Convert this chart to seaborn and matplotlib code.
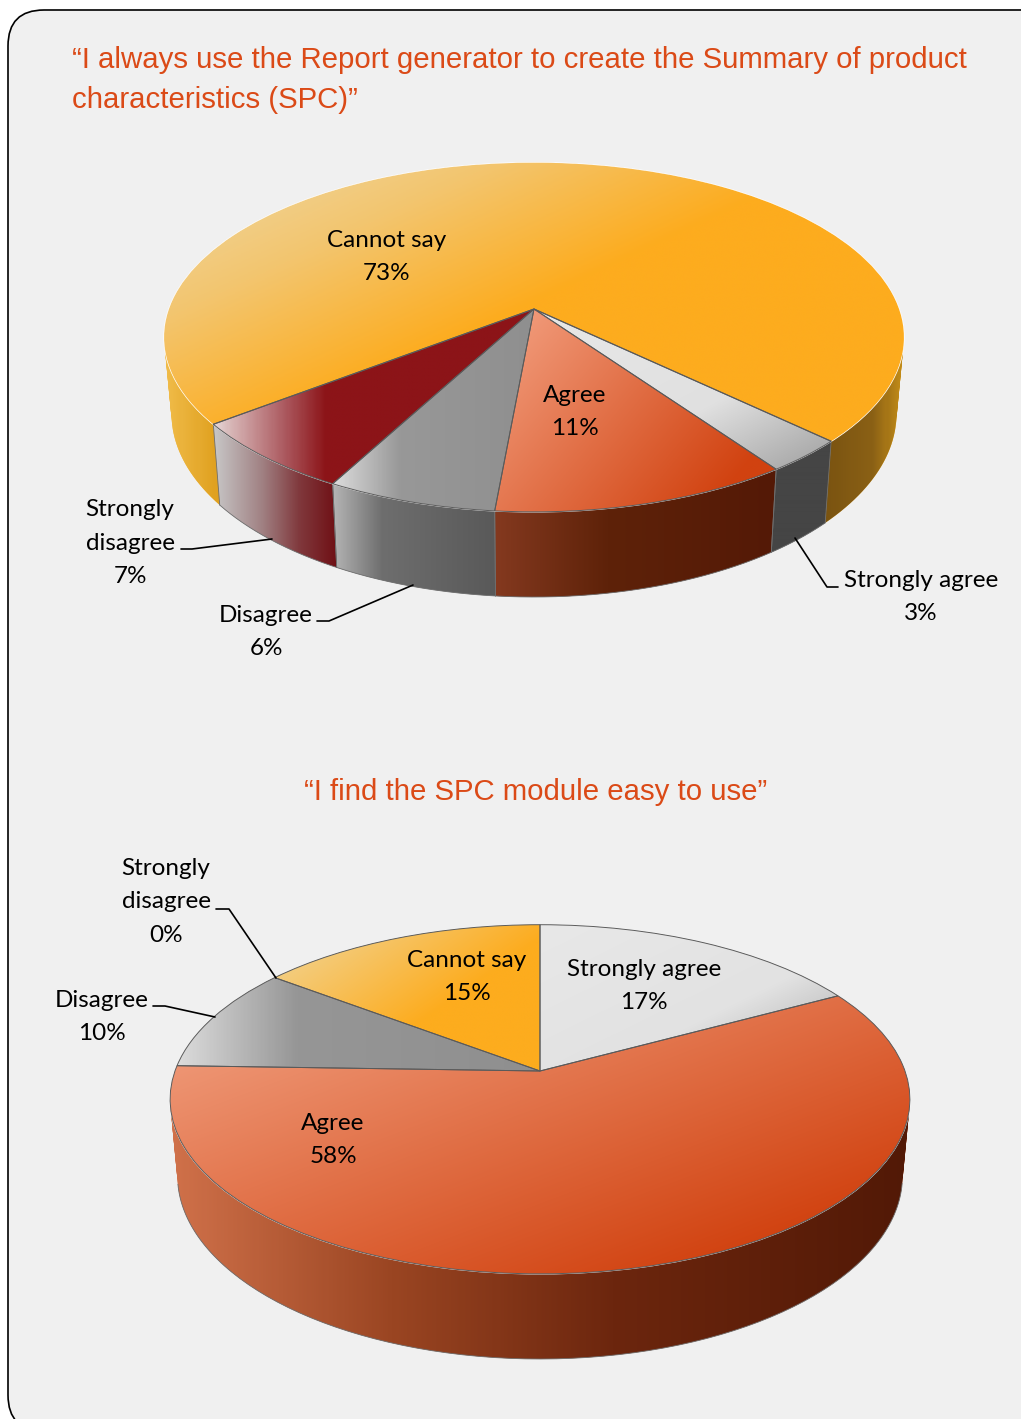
import numpy as np
import matplotlib
matplotlib.use('Agg')
import matplotlib.pyplot as plt
import seaborn as sns
from matplotlib.colors import LinearSegmentedColormap
from matplotlib.patches import FancyBboxPatch, PathPatch
from matplotlib.path import Path
from matplotlib.transforms import Transform

# Данные
categories = ['Strongly agree', 'Agree', 'Disagree', 'Strongly disagree', 'Cannot say']
report_values = [3.1, 11.2, 6.4, 6.7, 72.6]
module_values = [17.1, 58.4, 9.8, 0, 14.7]
report_title = '\u201cI always use the Report generator to create the Summary of product\ncharacteristics (SPC)\u201d'
module_title = '\u201cI find the SPC module easy to use\u201d'

base_colors = ['#d9d9d9', '#d24312', '#8f8f8f', '#8c1418', '#fdac1e']

# Градиенты верхней грани: (dx, dy), [(позиция, цвет), ...]
report_top = [
    ((1, 1), [(0, '#e8e8e8'), (0.6, '#e0e0e0'), (1, '#a0a0a0')]),
    ((1, 0.6), [(0, '#f4a283'), (0.85, '#d14210'), (1, '#d14210')]),
    ((1, 0), [(0, '#dcdcdc'), (0.33, '#989898'), (1, '#8f8f8f')]),
    ((1, 0), [(0, '#e6d8d8'), (0.05, '#d8b8b8'), (0.22, '#ac5a60'), (0.35, '#8c1418'), (1, '#8c1418')]),
    ((1, 0.8), [(0, '#efdaa8'), (0.25, '#f3c56e'), (0.5, '#fdac1e'), (1, '#fdac1e')]),
]
module_top = [
    ((1, 1), [(0, '#e8e8e8'), (0.6, '#e2e2e2'), (1, '#a8a8a8')]),
    ((1, 1), [(0, '#f3a485'), (0.85, '#d14210'), (1, '#d14210')]),
    ((1, 0), [(0, '#dcdcdc'), (0.33, '#969696'), (1, '#8f8f8f')]),
    ((1, 0), [(0, '#8f8f8f'), (1, '#8f8f8f')]),
    ((1, 0.8), [(0, '#f0d8a0'), (0.6, '#fdac1e'), (1, '#fdac1e')]),
]

# Градиенты боковой стенки (по горизонтали)
report_wall = [
    [(0, '#454545'), (1, '#454545')],
    [(0, '#84391f'), (0.4, '#5e2209'), (1, '#541906')],
    [(0, '#b4b4b4'), (0.3, '#6e6e6e'), (1, '#595959')],
    [(0, '#c8c8c8'), (0.4, '#a08082'), (0.7, '#80383c'), (1, '#6f1015')],
    [(0, '#f0bb48'), (0.08, '#dd9c18'), (0.5, '#a87812'), (0.89, '#785210'), (0.96, '#8a6015'), (1, '#c08a18')],
]
module_wall = [
    [(0, '#454545'), (1, '#454545')],
    [(0, '#d0714a'), (0.3, '#9a4522'), (0.6, '#6c260e'), (1, '#521906')],
    [(0, '#6e6e6e'), (1, '#595959')],
    [(0, '#6e6e6e'), (1, '#595959')],
    [(0, '#a87812'), (1, '#785210')],
]

report_label_xy = [(921, 597), (575, 412), (266, 632), (130, 543), (387, 257)]
module_label_xy = [(644, 986), (333, 1140), (102, 1017), (166, 902), (467, 977)]

report_leaders = [
    ([838, 827, 795], [587, 587, 538]),
    ([317, 329, 413], [621, 621, 585]),
    ([181, 192, 272], [549, 549, 539]),
]
module_leaders = [
    ([153, 165, 215], [1006, 1006, 1017]),
    ([216, 229, 276], [909, 909, 978]),
]


class PieProjection(Transform):
    # круг единичного радиуса -> эллипс в перспективе (координаты в пикселях)
    input_dims = 2
    output_dims = 2

    def __init__(self, cx, cy, a=365, b=170, k=0.162, sx=1.0, sy=1.0, drop=0.0):
        super().__init__()
        self.cx, self.cy, self.a, self.b, self.k = cx, cy, a, b, k
        self.sx, self.sy, self.drop = sx, sy, drop

    def transform_non_affine(self, values):
        x, y = np.asarray(values).T
        w = 1 + self.k * y
        return np.column_stack([self.cx + self.sx * self.a * x / w,
                                self.cy - self.sy * self.b * y / w + self.drop])


def shade(ax, patch, extents, stops, direction=(1, 0), zorder=1):
    x0, y0, x1, y1 = extents
    xx, yy = np.meshgrid(np.linspace(0, 1, 300), np.linspace(0, 1, 300))
    t = (xx * direction[0] + yy * direction[1]) / (direction[0] + direction[1])
    cmap = LinearSegmentedColormap.from_list('grad', stops)
    im = ax.imshow(t, cmap=cmap, vmin=0, vmax=1, extent=(x0, x1, y1, y0), origin='upper',
                   aspect='auto', interpolation='bilinear', zorder=zorder)
    im.set_clip_path(patch)


def wall_path(upper, lower):
    # стенка как объединение четырёхугольников, иначе у краёв эллипса она сужается в точку
    quads = []
    for i in range(len(upper) - 1):
        q = np.array([upper[i], upper[i + 1], lower[i + 1], lower[i], upper[i]])
        area = np.sum(q[:-1, 0] * q[1:, 1] - q[1:, 0] * q[:-1, 1])
        quads.append(Path(q if area > 0 else q[::-1], closed=True))
    return Path.make_compound_path(*quads)


def draw_pie(ax, values, startangle, proj, base, top_styles, wall_styles, soft_rim=()):
    wedges, _ = ax.pie(values, colors=sns.color_palette(base_colors), startangle=startangle,
                       counterclock=False, radius=1, center=(0, 0))
    for i, (wedge, value, top, wall) in enumerate(zip(wedges, values, top_styles, wall_styles)):
        wedge.set_transform(proj + ax.transData)
        wedge.set_zorder(3)
        if value == 0:
            wedge.set_visible(False)
            continue

        # боковая стенка
        angles = np.radians(np.linspace(wedge.theta1, wedge.theta2, 200))
        circle = np.column_stack([np.cos(angles), np.sin(angles)])
        upper, lower = proj.transform(circle), base.transform(circle)
        side = PathPatch(wall_path(upper, lower), facecolor=wall[0][1], edgecolor='none', zorder=1)
        ax.add_patch(side)
        xs, ys = np.vstack([upper, lower]).T
        shade(ax, side, (xs.min(), ys.min(), xs.max(), ys.max()), wall, zorder=1.5)

        # верхняя грань
        outline = proj.transform_path(wedge.get_path())
        box = outline.get_extents()
        shade(ax, wedge, (box.x0, box.y0, box.x1, box.y1), top[1], top[0], zorder=3.5)

        # контуры: у большого сектора без внешней дуги
        if i in soft_rim:
            spokes = proj.transform(np.array([circle[0], [0, 0], circle[-1]]))
            ax.plot(spokes[:, 0], spokes[:, 1], color='#5a5a5a', linewidth=0.8, zorder=4)
        else:
            front = circle[:, 1] < -0.2
            ax.plot(lower[front, 0], lower[front, 1], color='#6e6e6e', linewidth=0.6, zorder=2)
            for end in (0, -1):
                if front[end]:
                    ax.plot([upper[end, 0], lower[end, 0]], [upper[end, 1], lower[end, 1]],
                            color='#6e6e6e', linewidth=0.6, zorder=2)
            ax.add_patch(PathPatch(outline, fill=False, edgecolor='#5a5a5a', linewidth=0.7, zorder=4))


sns.set_theme(style='white', rc={'axes.facecolor': 'white', 'figure.facecolor': 'white'})
plt.rcParams['font.family'] = ['Lato', 'DejaVu Sans']

fig = plt.figure(figsize=(10.21, 14.19), dpi=100)
ax = fig.add_axes([0, 0, 1, 1])

report_proj = PieProjection(534, 309)
report_base = PieProjection(534, 309, sx=0.98, sy=1.05, drop=75)
module_proj = PieProjection(540, 1071)
module_base = PieProjection(540, 1071, sx=0.98, sy=1.05, drop=75)

draw_pie(ax, report_values, 90 - 133.7, report_proj, report_base, report_top, report_wall, soft_rim=(4,))
draw_pie(ax, module_values, 90, module_proj, module_base, module_top, module_wall)

ax.set_aspect('auto')
ax.set_xlim(0, 1021)
ax.set_ylim(1419, 0)
ax.axis('off')

ax.add_patch(FancyBboxPatch((8, 10), 1060, 1421, boxstyle='round,pad=0,rounding_size=36',
                            facecolor='#f0f0f0', edgecolor='black', linewidth=1.2, zorder=0))

title_color = '#db4a17'
ax.text(72, 80, report_title, ha='left', va='center', fontsize=21.14, color=title_color,
        family='Liberation Sans', linespacing=1.51, zorder=6)
ax.text(536, 792, module_title, ha='center', va='center', fontsize=21.14, color=title_color,
        family='Liberation Sans', zorder=6)

# подписи: категория и округлённый процент
wrapped = [c.replace('Strongly disagree', 'Strongly\ndisagree') for c in categories]
for values, positions in [(report_values, report_label_xy), (module_values, module_label_xy)]:
    for name, value, (x, y) in zip(wrapped, values, positions):
        ax.text(x, y, f'{name}\n{round(value)}%', ha='center', va='center', fontsize=17.5,
                color='black', linespacing=1.73, zorder=6)

for xs, ys in report_leaders + module_leaders:
    ax.plot(xs, ys, color='black', linewidth=1.2, zorder=5)

fig.savefig('out.png', dpi=100)
